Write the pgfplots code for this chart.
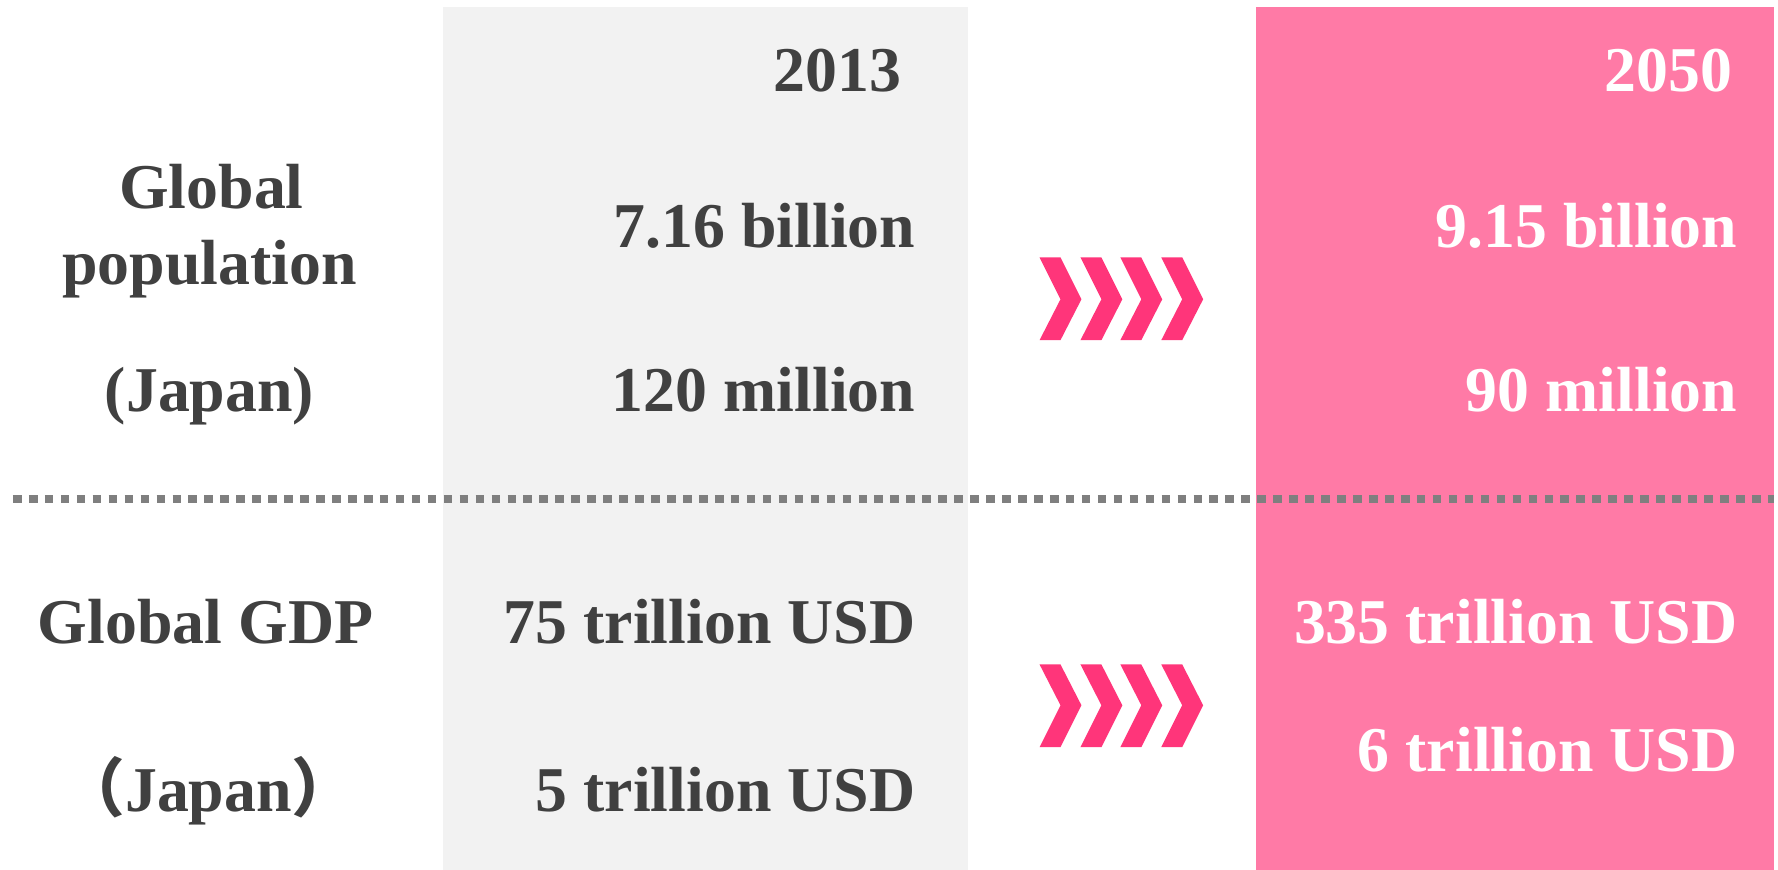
\documentclass[border=0pt]{standalone}
\usepackage{fontspec}
\setmainfont{Liberation Serif}
\newfontfamily\cjk{Noto Sans CJK JP}
\usepackage{pgfplots}
\pgfplotsset{compat=1.18}

\definecolor{txt}{HTML}{404040}
\definecolor{panelgray}{HTML}{F2F2F2}
\definecolor{panelpink}{HTML}{FF7AA6}
\definecolor{chev}{HTML}{FF357A}
\definecolor{dots}{HTML}{7F7F7F}

\tikzset{lbl/.style={font=\fontsize{18.2}{22}\selectfont\bfseries, inner sep=0pt}}

\begin{document}
\begin{tikzpicture}
\begin{axis}[
    x=0.1mm, y=0.1mm, y dir=reverse,
    xmin=0, xmax=1778, ymin=0, ymax=872,
    hide axis, clip=false,
  ]

% background and the two year panels
\addplot[draw=none, fill=white] coordinates {(0,0) (1778,0) (1778,872) (0,872)} -- cycle;
\addplot[draw=none, fill=panelgray] coordinates {(444,7) (970,7) (970,872) (444,872)} -- cycle;
\addplot[draw=none, fill=panelpink] coordinates {(1259,7) (1778,7) (1778,872) (1259,872)} -- cycle;

% dotted divider
\addplot[dots, line width=2.4pt, dash pattern=on 2.45pt off 2.1pt]
  coordinates {(13,500) (1778,500)};

% chevrons, upper row
\addplot[draw=none, fill=chev] coordinates {(1042,258) (1063,258) (1084,300) (1063,341) (1042,341) (1063,300)} -- cycle;
\addplot[draw=none, fill=chev] coordinates {(1083,258) (1104,258) (1125,300) (1104,341) (1083,341) (1104,300)} -- cycle;
\addplot[draw=none, fill=chev] coordinates {(1123,258) (1144,258) (1165,300) (1144,341) (1123,341) (1144,300)} -- cycle;
\addplot[draw=none, fill=chev] coordinates {(1164,258) (1185,258) (1206,300) (1185,341) (1164,341) (1185,300)} -- cycle;
% chevrons, lower row
\addplot[draw=none, fill=chev] coordinates {(1042,666) (1063,666) (1084,707) (1063,749) (1042,749) (1063,707)} -- cycle;
\addplot[draw=none, fill=chev] coordinates {(1083,666) (1104,666) (1125,707) (1104,749) (1083,749) (1104,707)} -- cycle;
\addplot[draw=none, fill=chev] coordinates {(1123,666) (1144,666) (1165,707) (1144,749) (1123,749) (1144,707)} -- cycle;
\addplot[draw=none, fill=chev] coordinates {(1164,666) (1185,666) (1206,707) (1185,749) (1164,749) (1185,707)} -- cycle;

% row labels
\node[lbl, txt, anchor=base] at (axis cs:212,209) {Global};
\node[lbl, txt, anchor=base] at (axis cs:210,285) {population};
\node[lbl, txt, anchor=base] at (axis cs:210,412) {(Japan)};
\node[lbl, txt, anchor=base] at (axis cs:206,645) {Global GDP};
\node[lbl, txt, anchor=base] at (axis cs:209,813) {{\cjk\bfseries （}Japan{\cjk\bfseries ）}};

% 2013 column
\node[lbl, txt, anchor=base east] at (axis cs:904,92) {2013};
\node[lbl, txt, anchor=base east] at (axis cs:918,248) {7.16 billion};
\node[lbl, txt, anchor=base east] at (axis cs:918,412) {120 million};
\node[lbl, txt, anchor=base east] at (axis cs:918,645) {75 trillion USD};
\node[lbl, txt, anchor=base east] at (axis cs:918,813) {5 trillion USD};

% 2050 column
\node[lbl, white, anchor=base east] at (axis cs:1737,92) {2050};
\node[lbl, white, anchor=base east] at (axis cs:1742,248) {9.15 billion};
\node[lbl, white, anchor=base east] at (axis cs:1742,412) {90 million};
\node[lbl, white, anchor=base east] at (axis cs:1742,645) {335 trillion USD};
\node[lbl, white, anchor=base east] at (axis cs:1742,773) {6 trillion USD};

\end{axis}
\end{tikzpicture}
\end{document}
